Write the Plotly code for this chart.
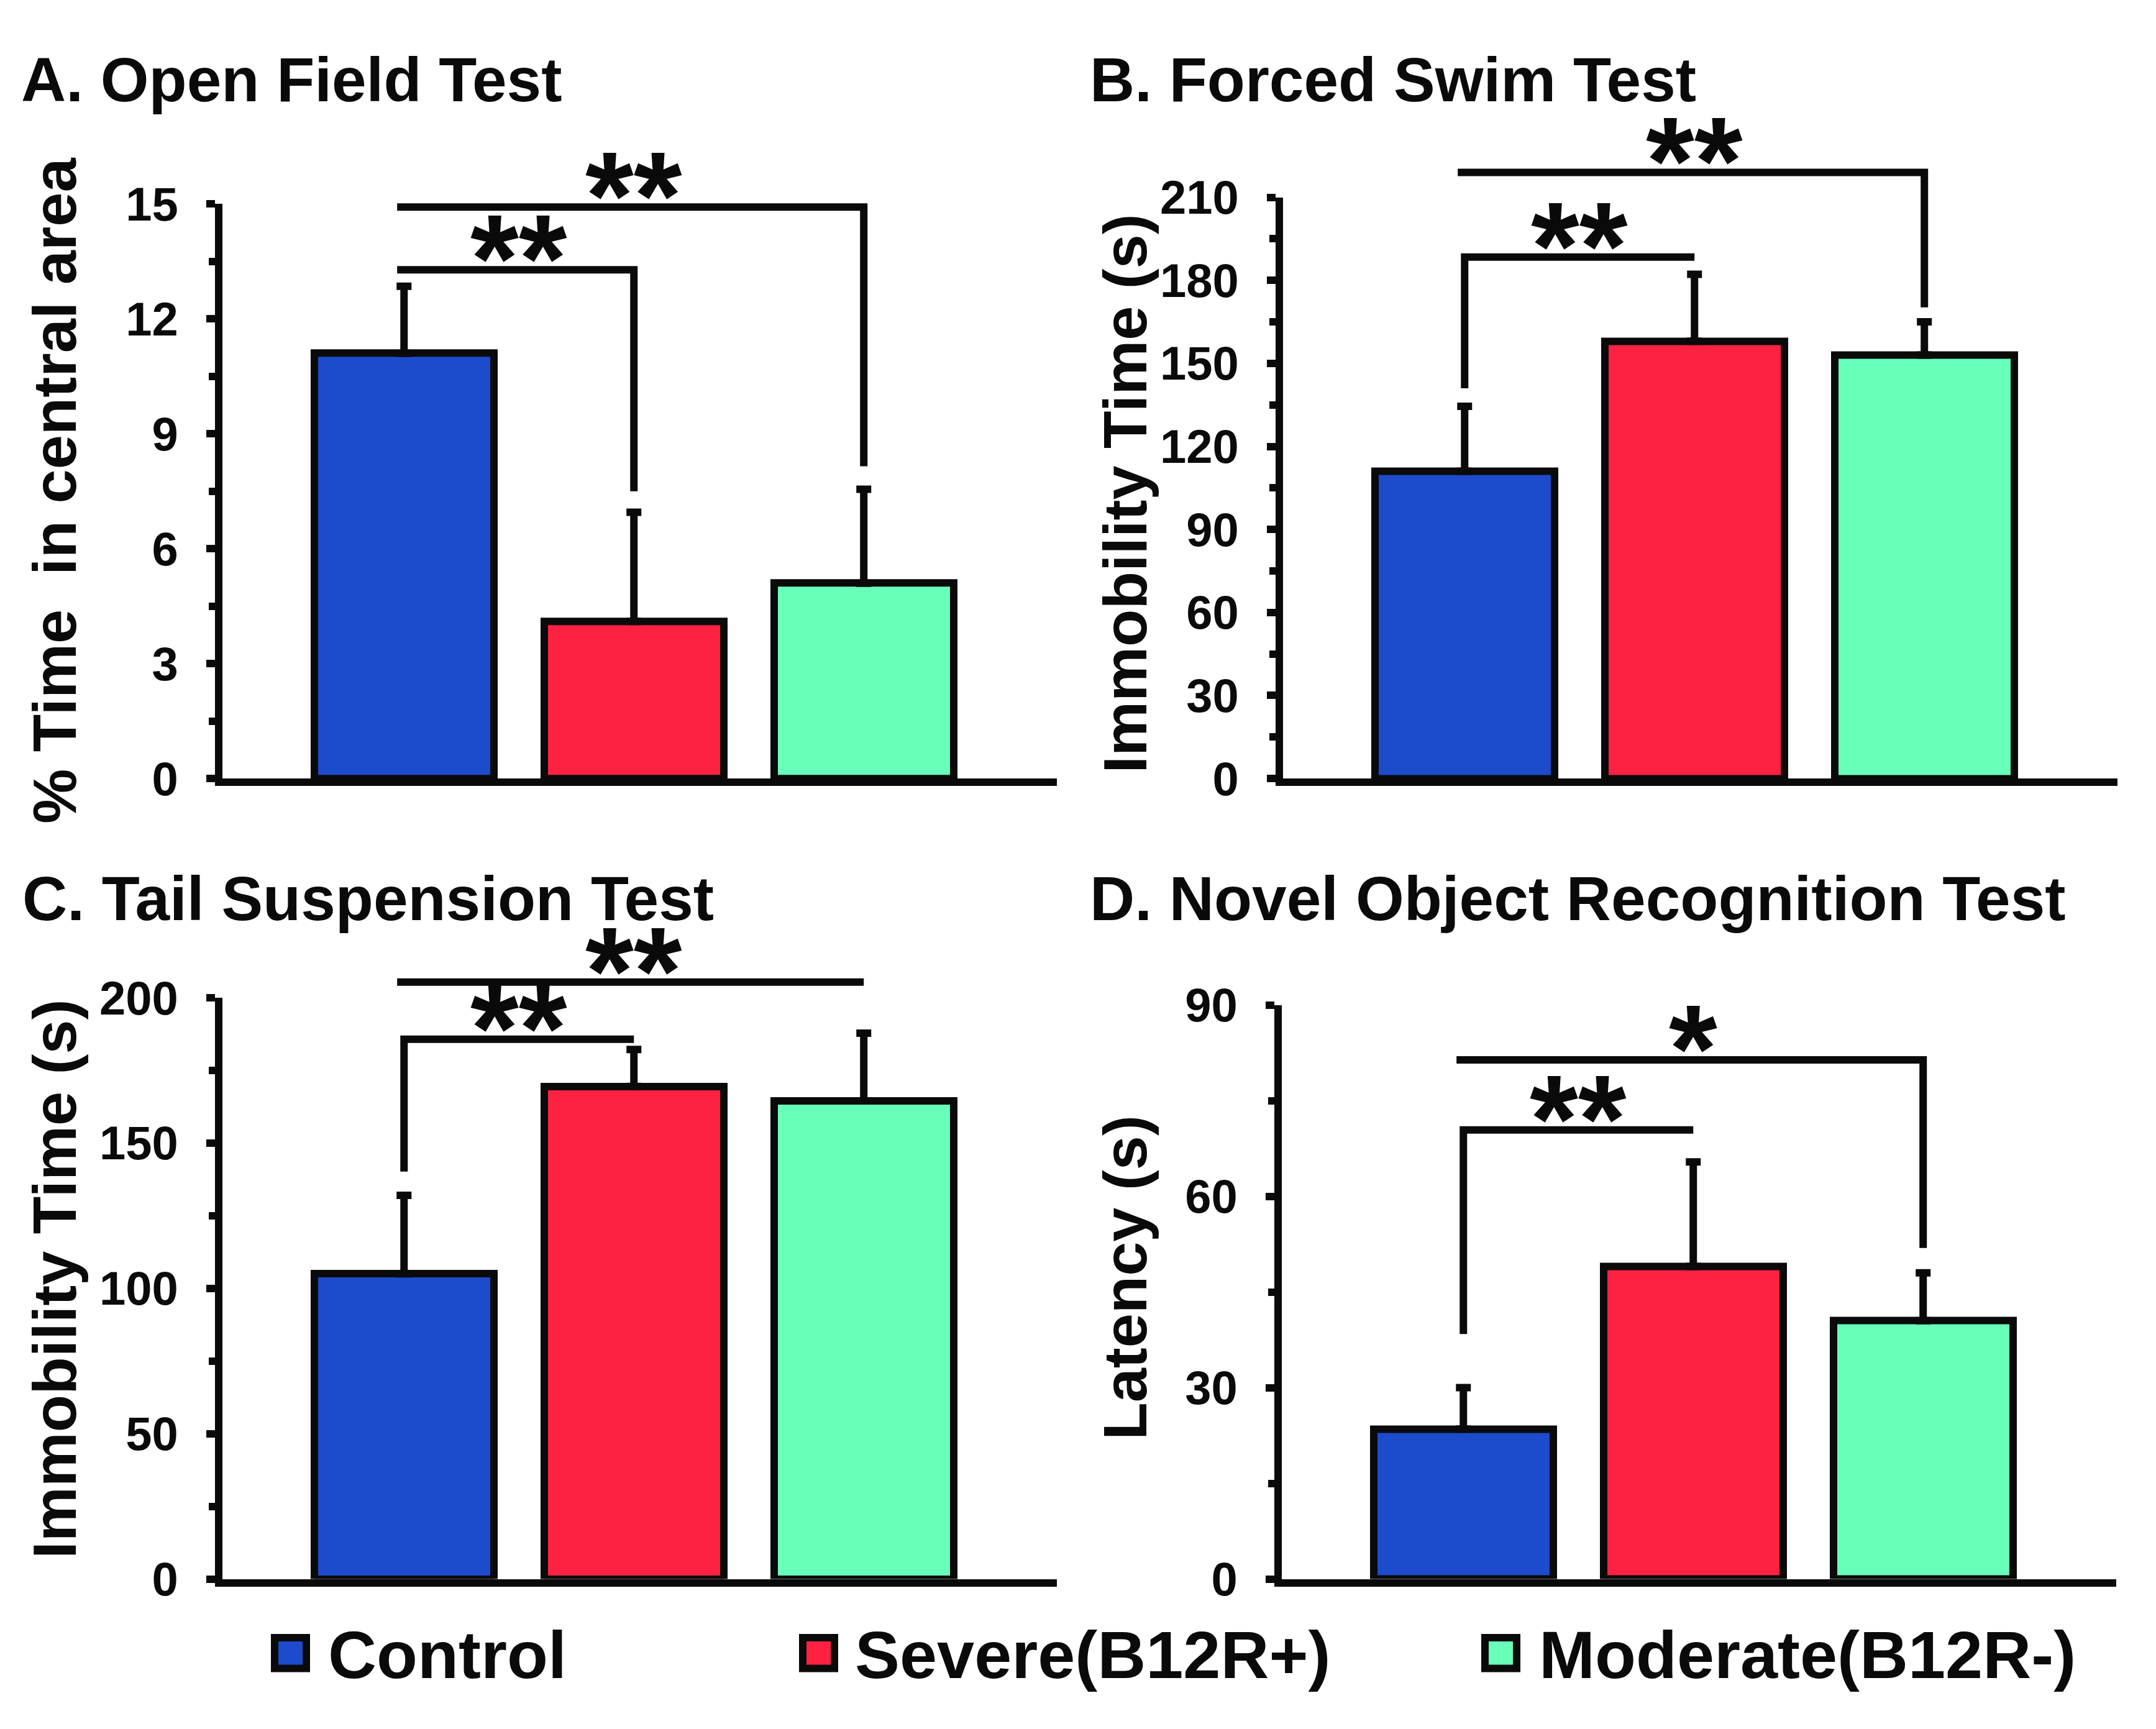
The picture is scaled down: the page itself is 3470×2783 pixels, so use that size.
import plotly.graph_objects as go

W, H = 3470, 2783
FONT = "Liberation Sans, Arial, Helvetica, sans-serif"
INK = "#0A0A0A"

# ---------------- data ----------------
groups = ["Control", "Severe(B12R+)", "Moderate(B12R-)"]
bar_colors = ["#1C4BCC", "#FF2142", "#68FFBA"]
x_pos = [0, 1, 2]

panel_titles = ["A. Open Field Test", "B. Forced Swim Test",
                "C. Tail Suspension Test", "D. Novel Object Recognition Test"]
y_titles = ["% Time\u00a0 in central area", "Immobility Time (s)",
            "Immobility Time (s)", "Latency (s)"]

open_field_mean = [11.1, 4.1, 5.1]
open_field_sem = [1.75, 2.85, 2.45]
forced_swim_mean = [111, 158, 153]
forced_swim_sem = [23.5, 24.2, 12.0]
tail_susp_mean = [105, 169.5, 164.5]
tail_susp_sem = [27.0, 12.7, 23.3]
nor_mean = [23.5, 49.0, 40.5]
nor_sem = [6.5, 16.4, 7.5]

y_max = [15, 210, 200, 90]
y_dtick = [3, 30, 50, 30]

# significance brackets: (from, to, height, left-leg end, right-leg end, label)
open_field_sig = [(0, 1, 13.28, None, 7.5, "**"), (0, 2, 14.92, None, 8.15, "**")]
forced_swim_sig = [(0, 1, 188.4, 141.0, None, "**"), (0, 2, 219.0, None, 170.2, "**")]
tail_susp_sig = [(0, 1, 185.7, 140.2, None, "**"), (0, 2, 205.4, None, None, "**")]
nor_sig = [(0, 1, 70.4, 38.4, None, "**"), (0, 2, 81.4, None, 51.9, "*")]

means = [open_field_mean, forced_swim_mean, tail_susp_mean, nor_mean]
sems = [open_field_sem, forced_swim_sem, tail_susp_sem, nor_sem]
sigs = [open_field_sig, forced_swim_sig, tail_susp_sig, nor_sig]

# ---------------- layout geometry (pixels) ----------------
x_range = [-0.79, 2.84]
dom_px = [  # (left, right, top, bottom)
    (350, 1693, 287, 1241),
    (2057, 3400, 276, 1241),
    (350, 1693, 1605, 2570),
    (2055, 3398, 1617, 2570),
]
title_px = [(24, 80), (1744, 80), (26, 1440), (1744, 1440)]
ytitle_px = [(80, 763), (1803, 768), (80, 2072), (1803, 2070)]
legend_sq_px = [428, 1278, 2376]
legend_txt_px = [518, 1366, 2467]
legend_sq_y = 2693
legend_txt_y = 2696
legend_sq_size = 63


def px(x):
    return x / W


def py(y):
    return 1 - y / H


fig = go.Figure()
layout = dict(
    width=W, height=H, margin=dict(l=0, r=0, t=0, b=0),
    paper_bgcolor="white", plot_bgcolor="white", showlegend=False,
    font=dict(family=FONT, color=INK), bargap=0,
)
shapes = []
annotations = []

for k in range(4):
    sfx = "" if k == 0 else str(k + 1)
    xa, ya = "x" + sfx, "y" + sfx
    fig.add_trace(go.Bar(
        x=x_pos, y=means[k], width=0.78, xaxis=xa, yaxis=ya,
        marker=dict(color=bar_colors, line=dict(color=INK, width=12)),
        error_y=dict(type="data", symmetric=False, array=sems[k],
                     arrayminus=[0, 0, 0], thickness=12, width=12, color=INK),
        hovertext=groups, name=panel_titles[k],
    ))
    l, r, t, b = dom_px[k]
    layout["xaxis" + sfx] = dict(
        domain=[px(l), px(r)], range=x_range, anchor=ya,
        showline=True, linewidth=12, linecolor=INK, ticks="",
        showticklabels=False, showgrid=False, zeroline=False, fixedrange=True,
    )
    layout["yaxis" + sfx] = dict(
        domain=[py(b), py(t)], range=[0, y_max[k]], anchor=xa,
        showline=True, linewidth=12, linecolor=INK,
        ticks="outside", ticklen=14, tickwidth=12, tickcolor=INK,
        tick0=0, dtick=y_dtick[k],
        minor=dict(ticks="outside", ticklen=10, tickwidth=12, tickcolor=INK,
                   dtick=y_dtick[k] / 2, tick0=0),
        tickfont=dict(size=76, family=FONT, color=INK, weight="bold"),
        ticklabelstandoff=30,
        showgrid=False, zeroline=False, fixedrange=True,
    )
    # panel title
    annotations.append(dict(
        text=panel_titles[k], xref="paper", yref="paper",
        x=px(title_px[k][0]), y=py(title_px[k][1]), xanchor="left", yanchor="middle",
        showarrow=False, font=dict(size=100, family=FONT, color=INK, weight="bold"),
    ))
    # y-axis title
    annotations.append(dict(
        text=y_titles[k], xref="paper", yref="paper", textangle=-90,
        x=px(ytitle_px[k][0]), y=py(ytitle_px[k][1]), xanchor="center", yanchor="middle",
        showarrow=False, font=dict(size=99, family=FONT, color=INK, weight="bold"),
    ))
    # significance brackets
    yd = ya + " domain"
    for (i, j, h, legl, legr, lab) in sigs[k]:
        xi, xj = x_pos[i], x_pos[j]
        hy = h / y_max[k]
        if legl is not None:
            path = f"M{xi},{legl / y_max[k]} L{xi},{hy} "
        else:
            path = f"M{xi - 0.03},{hy} "
        path += f"L{xj},{hy}"
        if legr is not None:
            path += f" L{xj},{legr / y_max[k]}"
        shapes.append(dict(type="path", xref=xa, yref=yd, path=path,
                           line=dict(color=INK, width=12)))
        annotations.append(dict(
            text=lab, xref=xa, yref=yd, x=(xi + xj) / 2, y=hy,
            xanchor="center", yanchor="bottom", yshift=-95, showarrow=False,
            font=dict(size=200, family=FONT, color=INK, weight="bold"),
        ))

# legend (manual, large keys)
for g, col, sx, tx in zip(groups, bar_colors, legend_sq_px, legend_txt_px):
    half = legend_sq_size / 2
    shapes.append(dict(
        type="rect", xref="paper", yref="paper",
        x0=px(sx + 6), x1=px(sx + legend_sq_size - 6),
        y0=py(legend_sq_y + half - 6), y1=py(legend_sq_y - half + 6),
        fillcolor=col, line=dict(color=INK, width=12),
    ))
    annotations.append(dict(
        text=g, xref="paper", yref="paper", x=px(tx), y=py(legend_txt_y),
        xanchor="left", yanchor="middle", showarrow=False,
        font=dict(size=108, family=FONT, color=INK, weight="bold"),
    ))

layout["shapes"] = shapes
layout["annotations"] = annotations
fig.update_layout(**layout)
fig.write_html("out.html")
